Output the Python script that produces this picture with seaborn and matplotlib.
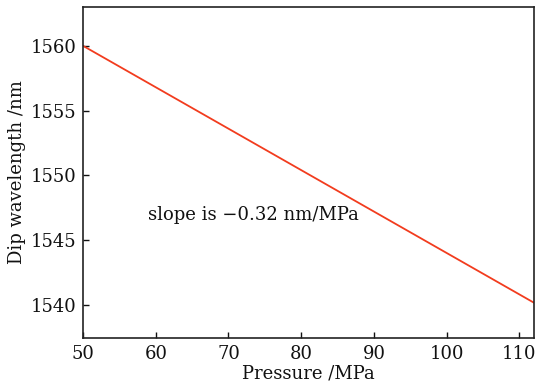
import matplotlib
matplotlib.use("Agg")
import matplotlib.pyplot as plt
import seaborn as sns
import pandas as pd

pressure = [50, 112]
wavelength = [1560.0, 1540.16]
x_ticks = [50, 60, 70, 80, 90, 100, 110]
y_ticks = [1540, 1545, 1550, 1555, 1560]
annotation = "slope is \u22120.32 nm/MPa"

sns.set_theme(style="ticks")
plt.rcParams['font.family'] = ['DejaVu Serif']

df = pd.DataFrame({"Pressure": pressure, "Wavelength": wavelength})

fig = plt.figure(figsize=(5.36, 3.9), dpi=100)
ax = fig.add_axes([0.155, 0.134, 0.841, 0.848])
sns.lineplot(data=df, x="Pressure", y="Wavelength", ax=ax, color="#f23c1e", linewidth=1.3)
ax.set_xlim(50, 112)
ax.set_ylim(1537.45, 1563)
ax.set_xticks(x_ticks)
ax.set_yticks(y_ticks)
ax.tick_params(direction="in", length=4, width=1, labelsize=13, colors="#111111", pad=5)
for s in ax.spines.values():
    s.set_linewidth(1.2)
    s.set_color("#222222")
ax.set_xlabel("Pressure /MPa", fontsize=13, labelpad=1, color="#111111")
ax.set_ylabel("Dip wavelength /nm", fontsize=13, labelpad=3, color="#111111")
ax.text(58.9, 1546.95, annotation, fontsize=13, va="center", ha="left", color="#111111")
fig.savefig("out.png", dpi=100)
